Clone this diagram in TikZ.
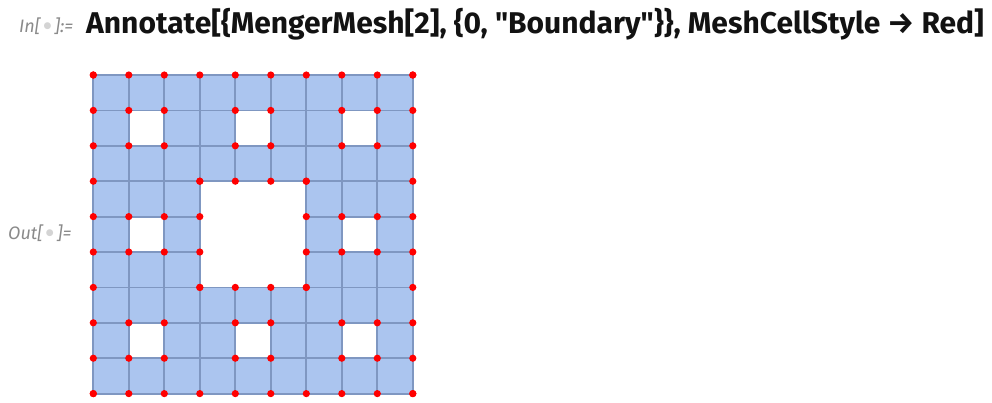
\documentclass[tikz,border=0pt]{standalone}
\usepackage{fontspec}
\setmainfont{Fira Sans}[Ligatures=TeXOff]
\newfontfamily\symfont{DejaVu Sans}
\usepackage{tikz}
\definecolor{cellblue}{HTML}{ABC5EF}
\definecolor{edgeblue}{HTML}{7F97C1}
\definecolor{labelgray}{HTML}{8A8A8A}
\definecolor{dotgray}{HTML}{D4D4D4}
\newcommand{\promptdot}{\,\raisebox{3.5pt}{\symfont\fontsize{9}{9}\selectfont\color{dotgray}●}\,}

\begin{document}
\begin{tikzpicture}[x=1pt, y=-1pt,
        cell/.style={fill=cellblue, draw=edgeblue, line width=1.8pt},
        bdot/.style={fill=red},
        prompt/.style={font=\fontsize{18}{20}\selectfont\itshape, text=labelgray, inner sep=0pt},
        code/.style={font=\fontsize{30}{34}\selectfont\bfseries, text=black!93, inner sep=0pt}]
        \useasboundingbox (0,0) rectangle (992,402);

        \node[prompt, anchor=base west] (In) at (19,32) {In[\promptdot]:=};
        \node[code, anchor=base west] (Input) at (86,33) {Annotate[\{MengerMesh[2], \{0, "Boundary"\}\}, MeshCellStyle → Red]};
        \node[prompt, anchor=base west] (Out) at (8,239) {Out[\promptdot]=};

        \begin{scope}[shift={(93.3,75)}, x=35.5pt, y=-35.4pt]
            % cells, leaving out the holes
            \foreach \c in {0,...,8}
                \foreach \r in {0,...,8} {
                    \pgfmathtruncatemacro{\hole}{(mod(\c,3)==1 && mod(\r,3)==1) || (\c>2 && \c<6 && \r>2 && \r<6)}
                    \ifnum\hole=0
                        \draw[cell] (\c,\r) rectangle ++(1,1);
                    \fi
                }
            % boundary points
            \foreach \i in {0,...,9} {
                \fill[bdot] (\i,0) circle (3.6pt);
                \fill[bdot] (\i,9) circle (3.6pt);
                \fill[bdot] (0,\i) circle (3.6pt);
                \fill[bdot] (9,\i) circle (3.6pt);
            }
            \foreach \c/\r in {1/1,4/1,7/1,1/4,7/4,1/7,4/7,7/7} {
                \fill[bdot] (\c,\r) circle (3.6pt);
                \fill[bdot] (\c+1,\r) circle (3.6pt);
                \fill[bdot] (\c,\r+1) circle (3.6pt);
                \fill[bdot] (\c+1,\r+1) circle (3.6pt);
            }
            \foreach \i in {3,...,6} {
                \fill[bdot] (\i,3) circle (3.6pt);
                \fill[bdot] (\i,6) circle (3.6pt);
                \fill[bdot] (3,\i) circle (3.6pt);
                \fill[bdot] (6,\i) circle (3.6pt);
            }
        \end{scope}
\end{tikzpicture}
\end{document}
